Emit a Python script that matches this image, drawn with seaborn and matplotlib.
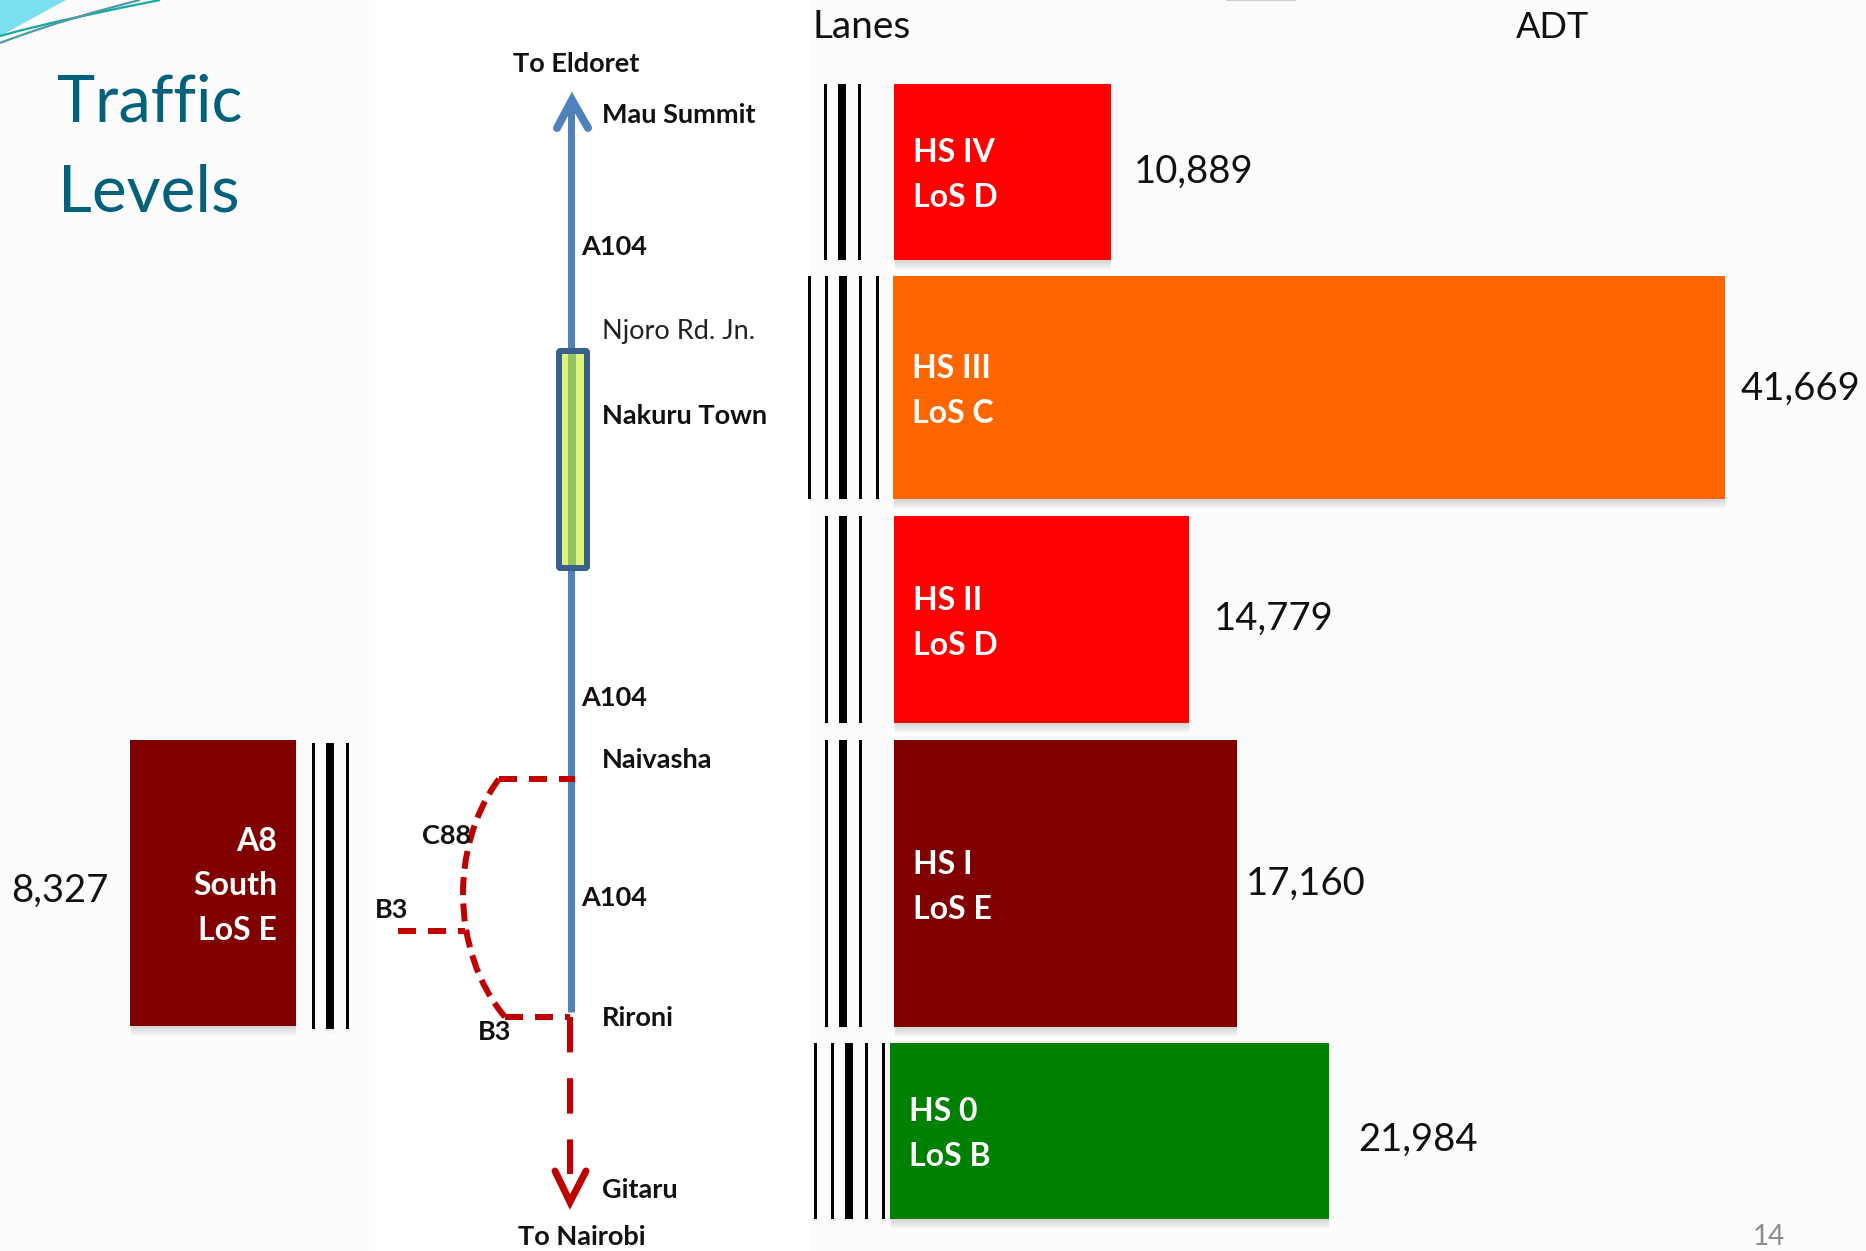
import matplotlib
matplotlib.use("Agg")
import matplotlib.pyplot as plt
from matplotlib.patches import PathPatch, Polygon, Rectangle, FancyBboxPatch
from matplotlib.path import Path
import pandas as pd
import seaborn as sns

# Traffic per road section
segments = ["HS IV", "HS III", "HS II", "HS I", "HS 0", "A8 South"]
adt = [10889, 41669, 14779, 17160, 21984, 8327]
los = ["LoS D", "LoS C", "LoS D", "LoS E", "LoS B", "LoS E"]
colors = ["#FF0000", "#FF6600", "#FF0000", "#800000", "#008000", "#800000"]
lanes_thin = [2, 4, 2, 2, 4, 2]

# Layout of each section, in pixels
W, H = 1866, 1251
PX_PER_VEH = 0.01997
ZERO_X = 894
bar_left = [894, 893, 894, 894, 890, 130]
bar_top = [84, 276, 516, 740, 1043, 740]
bar_bottom = [260, 499, 723, 1027, 1219, 1026]
value_x = [1134, 1741, 1214, 1246, 1358, 11]
value_y = [183, 400, 630, 895, 1151, 902]
label_y = [(162, 207), (378, 423), (610, 655), (874, 919), (1121, 1166)]
lane_centre = [842, 843, 843, 843, 849, 330]
lane_top = [84, 276, 516, 740, 1043, 743]
lane_bottom = [260, 499, 723, 1027, 1219, 1029]

# Places along the corridor
place_names = ["To Eldoret", "Mau Summit", "A104", "Nakuru Town", "A104", "Naivasha",
               "C88", "A104", "B3", "B3", "Rironi", "Gitaru", "To Nairobi"]
place_x = [513, 602, 581, 602, 581, 602, 422, 581, 375, 478, 602, 602, 518]
place_y = [63, 114, 246, 415, 697, 759, 835, 897, 909, 1031, 1017, 1189, 1236]

sns.set_theme(style="white")
plt.rcParams["font.family"] = ["Lato", "DejaVu Sans"]

fig = plt.figure(figsize=(W / 100, H / 100), dpi=100, facecolor="white")


def pixel_axes(z):
    a = fig.add_axes([0, 0, 1, 1], zorder=z)
    a.set_xlim(0, W)
    a.set_ylim(H, 0)
    a.axis("off")
    a.patch.set_alpha(0)
    return a


back = pixel_axes(0)
front = pixel_axes(2)

# Slide background and header swoosh
for x0, x1 in [(0, 375), (810, W)]:
    back.add_patch(Rectangle((x0, 0), x1 - x0, H, fc="#FCFCFC", ec="none"))
back.add_patch(Polygon([(0, 0), (66, 0), (0, 36)], fc="#7ADFEE", ec="none"))
back.add_patch(PathPatch(Path([(0, 36), (50, 22), (110, 10), (160, 0)],
                              [Path.MOVETO, Path.CURVE4, Path.CURVE4, Path.CURVE4]),
                         fc="none", ec="#17A9A0", lw=1.6))
back.add_patch(PathPatch(Path([(0, 43), (50, 24), (100, 10), (140, 0)],
                              [Path.MOVETO, Path.CURVE4, Path.CURVE4, Path.CURVE4]),
                         fc="none", ec="#4F9AA5", lw=1.6))
back.add_patch(Rectangle((1226, 0), 70, 1, fc="#CFCFCF", ec="none"))


def soft_shadow(a, x0, x1, y, strength=0.014, depth=10):
    for k in range(1, depth + 1):
        a.add_patch(Rectangle((x0 + 1, y), x1 - x0 - 1, k, fc="black", ec="none", alpha=strength))


# Bars: a shared ADT scale whose zero sits at the left edge of the section bars
ax = fig.add_axes([0, 0, 1, 1], zorder=1)
ax.patch.set_alpha(0)
df = pd.DataFrame({"segment": segments, "adt": adt})
sns.barplot(data=df, y="segment", x="adt", hue="segment", palette=colors, dodge=False,
            legend=False, errorbar=None, saturation=1, ax=ax)
ax.set_xlim(-ZERO_X / PX_PER_VEH, (W - ZERO_X) / PX_PER_VEH)
ax.set_ylim(H, 0)
ax.axis("off")
for i, container in enumerate(ax.containers):
    bar = container[0]
    bar.set_x((bar_left[i] - ZERO_X) / PX_PER_VEH)
    bar.set_y(bar_top[i])
    bar.set_height(bar_bottom[i] - bar_top[i])
    bar.set_linewidth(0)
    right = bar_left[i] + adt[i] * PX_PER_VEH
    soft_shadow(back, bar_left[i], right, bar_bottom[i])

    # Lane stripes: a thick median with thin lines on either side
    c = lane_centre[i]
    offsets = [-17, 17] if lanes_thin[i] == 2 else [-34, -17, 17, 34]
    for dx, lw in [(o, 3) for o in offsets] + [(0, 8)]:
        back.add_patch(Rectangle((c + dx - lw / 2, lane_top[i]), lw, lane_bottom[i] - lane_top[i],
                                 fc="black", ec="none"))
        soft_shadow(back, c + dx - lw / 2 - 1, c + dx + lw / 2 + 1, lane_bottom[i], 0.012, 5)

    # ADT figure beside the bar
    front.text(value_x[i], value_y[i], f"{adt[i]:,}", fontsize=27.5, color="#111111",
               ha="left", va="baseline")

# Names inside the bars
for i in range(5):
    x = bar_left[i] + 19
    front.text(x, label_y[i][0], segments[i], fontsize=23, fontweight="bold", color="white")
    front.text(x, label_y[i][1], los[i], fontsize=23, fontweight="bold", color="white")
for line, y in zip(["A8", "South", los[5]], [851, 895, 940]):
    front.text(277, y, line, fontsize=23, fontweight="bold", color="white", ha="right")

# Corridor: A104 in blue
BLUE = "#4F81BD"
RED = "#C00000"
LW = 0.72
back.plot([571, 571], [104, 1012], color=BLUE, lw=7 * LW, solid_capstyle="butt")
back.plot([557, 572, 588], [128, 100, 128], color=BLUE, lw=8 * LW, solid_joinstyle="miter", solid_capstyle="round")
front.add_patch(FancyBboxPatch((559, 351), 28, 217, boxstyle="round,pad=0,rounding_size=1.5",
                               fc="#DDF47C", ec="#3A5F8B", lw=6 * LW))
front.add_patch(Rectangle((568, 354), 8, 211, fc="#93C060", ec="none"))

# Bypass and southern approach in dashed red
dash = (0, (3.0, 2.0))
back.plot([499, 575], [779, 779], color=RED, lw=6 * LW, linestyle=dash, zorder=3)
back.plot([398, 465], [931, 931], color=RED, lw=6 * LW, linestyle=dash)
back.plot([505, 570], [1017, 1017], color=RED, lw=6 * LW, linestyle=dash)
bypass = Path([(499, 779), (472, 815), (463, 860), (463, 893), (463, 940), (478, 985), (505, 1017)],
              [Path.MOVETO] + [Path.CURVE4] * 6)
back.add_patch(PathPatch(bypass, fc="none", ec=RED, lw=6 * LW, linestyle=(0, (3.0, 1.4))))
back.plot([570, 570], [1017, 1174], color=RED, lw=6 * LW, linestyle=(0, (5.9, 4.3)), dash_capstyle="butt")
back.plot([555, 570, 586], [1171, 1202, 1171], color=RED, lw=7 * LW, solid_joinstyle="miter", solid_capstyle="round")

# Text
front.text(57, 122, "Traffic", fontsize=46.5, color="#04617B")
front.text(58, 212, "Levels", fontsize=47.5, color="#04617B")
front.text(813, 38, "Lanes", fontsize=28, color="#111111")
front.text(1516, 38, "ADT", fontsize=26, color="#111111")
for name, x, y in zip(place_names, place_x, place_y):
    front.text(x, y + 9, name, fontsize=19.5, fontweight="bold", color="#111111", ha="left", va="baseline")
front.text(602, 339, "Njoro Rd. Jn.", fontsize=19.5, color="#222222")
front.text(1753, 1245, "14", fontsize=20, color="#8C8C8C")

fig.savefig("out.png", dpi=100, facecolor="white")
